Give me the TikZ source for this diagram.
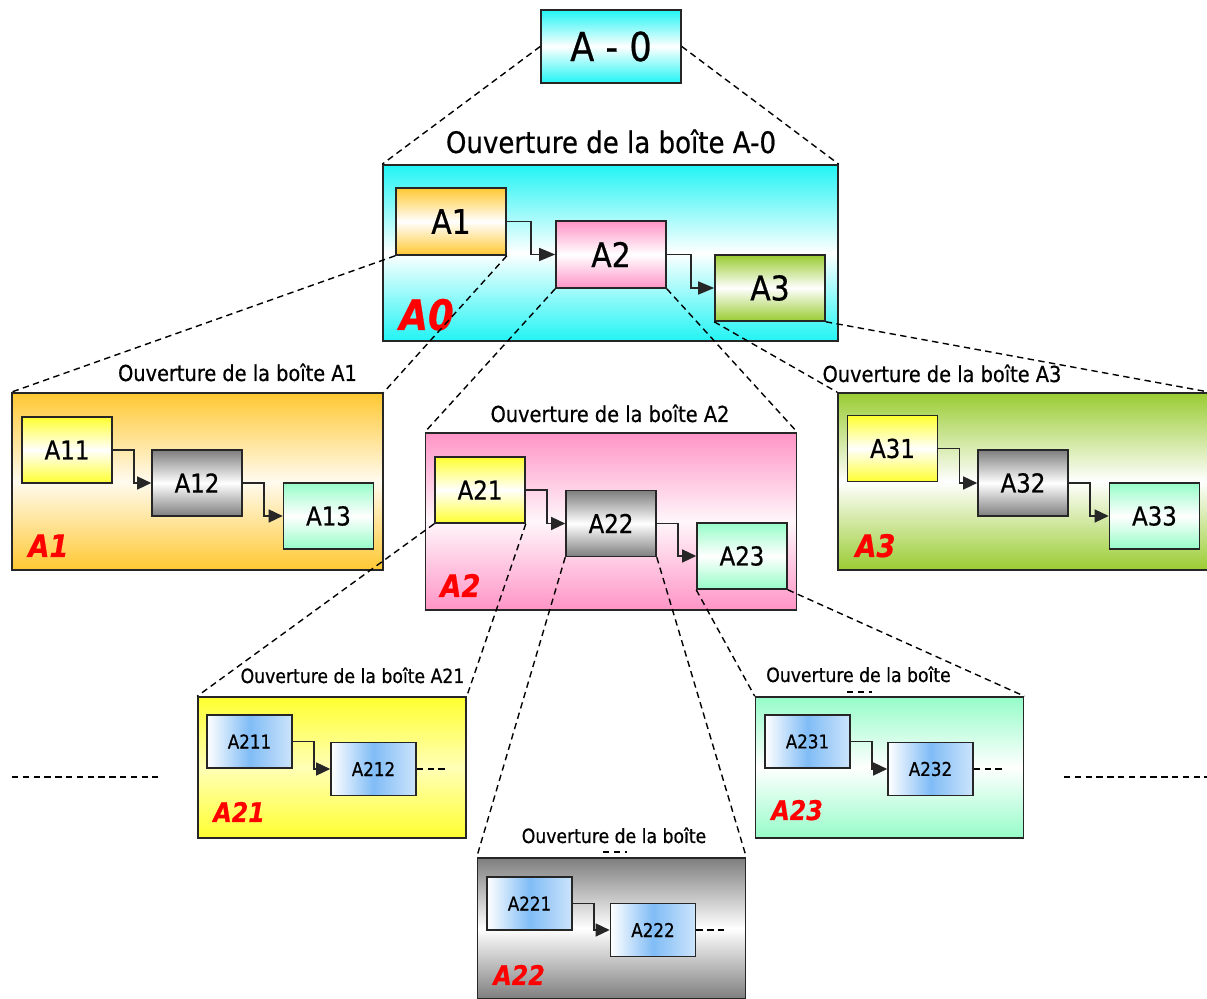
\documentclass[tikz,border=0pt]{standalone}
\usepackage{fontspec}
\setmainfont{DejaVu Sans}[FakeStretch=0.88, FakeBold=0.6]
\usetikzlibrary{arrows.meta}

\definecolor{cyanA}{HTML}{22F4F4}
\definecolor{orangeA}{HTML}{FFC832}
\definecolor{roseA}{HTML}{FF94C6}
\definecolor{vertA}{HTML}{9ACC32}
\definecolor{jauneA}{HTML}{FFFF30}
\definecolor{grisA}{HTML}{7E7E7E}
\definecolor{aquaA}{HTML}{96FCC8}
\definecolor{bleuA}{HTML}{80BCF6}

\tikzset{
  fond/.style 2 args={top color=#1, bottom color=#1, middle color=#2},
  fondh/.style={left color=white, right color=white!60!bleuA, middle color=bleuA},
  boite/.style={draw=black!85, line width=0.8pt, inner sep=0pt},
  moyen/.style={boite, minimum width=55pt, minimum height=33.5pt, font=\fontsize{17}{20}\selectfont},
  petit/.style={boite, minimum width=45pt, minimum height=33pt, font=\fontsize{13}{16}\selectfont},
  mini/.style={boite, fondh, minimum width=42.5pt, minimum height=26.5pt, font=\fontsize{9.5}{11}\selectfont},
  grande/.style={boite, minimum width=185.5pt, minimum height=88.5pt},
  bas/.style={boite, minimum width=134pt, minimum height=70.5pt},
  titre/.style={anchor=base, inner sep=0pt},
  rouge/.style={anchor=base west, inner sep=0pt, text=red, font=#1\bfseries\itshape},
  fleche/.style={draw=black!85, line width=0.7pt, -{Triangle[length=#1,width=6.5pt]}},
  fleche/.default=7pt,
  pointille/.style={line width=0.7pt, dash pattern=on 3.2pt off 2.2pt}
}

\begin{document}
\begin{tikzpicture}[x=0.5pt, y=-0.5pt]
\clip (0,0) rectangle (1207,999);
\fill[white] (0,0) rectangle (1207,999);

% boite de depart
\node[boite, fond={cyanA}{white}, minimum width=70pt, minimum height=36.5pt,
  font=\fontsize{20}{24}\selectfont] (a0) at (611,46.5) {A - 0};

% niveau A0
\node[titre, font=\fontsize{14.8}{17}\selectfont] (tA0) at (611,153) {Ouverture de la boîte A-0};
\node[boite, fond={cyanA}{white}, minimum width=227.5pt, minimum height=88pt] (bA0) at (610.5,253) {};
\node[moyen, fond={orangeA}{white}] (a1) at (451,221.5) {A1};
\node[moyen, fond={roseA}{white}] (a2) at (611,254.5) {A2};
\node[moyen, fond={vertA}{white}, minimum height=33pt] (a3) at (770,288) {A3};
\node[rouge=\fontsize{21}{24}\selectfont] (rA0) at (399,330) {A0};
\draw[fleche=8pt] (a1.east) -- ++(24,0) |- (a2.west);
\draw[fleche=8pt] (a2.east) -- ++(24,0) |- (a3.west);

% niveau A1
\node[titre, font=\fontsize{11}{13}\selectfont] (tA1) at (237.5,381) {Ouverture de la boîte A1};
\node[grande, fond={orangeA}{orangeA!8}] (bA1) at (197.5,481.5) {};
\node[petit, fond={jauneA}{white}] (a11) at (67,450) {A11};
\node[petit, fond={grisA}{white}] (a12) at (197,483) {A12};
\node[petit, fond={aquaA}{white}] (a13) at (328.5,516) {A13};
\node[rouge=\fontsize{15.5}{18}\selectfont] (rA1) at (28,557) {A1};
\draw[fleche] (a11.east) -- ++(21,0) |- (a12.west);
\draw[fleche] (a12.east) -- ++(21,0) |- (a13.west);

% niveau A2
\node[titre, font=\fontsize{11}{13}\selectfont] (tA2) at (610,422) {Ouverture de la boîte A2};
\node[grande, fond={roseA}{roseA!8}] (bA2) at (611,521.5) {};
\node[petit, fond={jauneA}{white}] (a21) at (480,490) {A21};
\node[petit, fond={grisA}{white}] (a22) at (611,523.5) {A22};
\node[petit, fond={aquaA}{white}] (a23) at (742,556) {A23};
\node[rouge=\fontsize{15.5}{18}\selectfont] (rA2) at (440,597) {A2};
\draw[fleche] (a21.east) -- ++(21,0) |- (a22.west);
\draw[fleche] (a22.east) -- ++(21,0) |- (a23.west);

% niveau A3
\node[titre, font=\fontsize{11}{13}\selectfont] (tA3) at (942,382) {Ouverture de la boîte A3};
\node[grande, fond={vertA}{white}] (bA3) at (1023.5,481.5) {};
\node[petit, fond={jauneA}{white}] (a31) at (892.5,448.5) {A31};
\node[petit, fond={grisA}{white}] (a32) at (1023,483) {A32};
\node[petit, fond={aquaA}{white}] (a33) at (1154.5,516) {A33};
\node[rouge=\fontsize{15.5}{18}\selectfont] (rA3) at (855,557) {A3};
\draw[fleche] (a31.east) -- ++(21,0) |- (a32.west);
\draw[fleche] (a32.east) -- ++(21,0) |- (a33.west);

% niveau A21
\node[titre, font=\fontsize{9.8}{12}\selectfont] (tA21) at (352.5,683) {Ouverture de la boîte A21};
\node[bas, fond={jauneA}{jauneA!35}] (bA21) at (332,767.5) {};
\node[mini] (a211) at (249.5,741.5) {A211};
\node[mini] (a212) at (373.5,769) {A212};
\node[rouge=\fontsize{13.5}{16}\selectfont] (rA21) at (213,822) {A21};
\draw[fleche] (a211.east) -- ++(21,0) |- (a212.west);
\draw[pointille] (a212.east) -- ++(31,0);

% niveau A23
\node[titre, font=\fontsize{9.8}{12}\selectfont] (tA23) at (858.5,682) {Ouverture de la boîte};
\node[bas, fond={aquaA}{white}] (bA23) at (889.5,767.5) {};
\node[mini] (a231) at (807.5,741.5) {A231};
\node[mini] (a232) at (930.5,769) {A232};
\node[rouge=\fontsize{13.5}{16}\selectfont] (rA23) at (771,820) {A23};
\draw[fleche] (a231.east) -- ++(21,0) |- (a232.west);
\draw[pointille] (a232.east) -- ++(31,0);
\draw[pointille] (847,692) -- (872,692);

% niveau A22
\node[titre, font=\fontsize{9.8}{12}\selectfont] (tA22) at (614,843) {Ouverture de la boîte};
\node[bas, fond={grisA}{white}] (bA22) at (611.5,928.5) {};
\node[mini] (a221) at (529.5,903.5) {A221};
\node[mini] (a222) at (653,930) {A222};
\node[rouge=\fontsize{13.5}{16}\selectfont] (rA22) at (493,985) {A22};
\draw[fleche] (a221.east) -- ++(21,0) |- (a222.west);
\draw[pointille] (a222.east) -- ++(31,0);
\draw[pointille] (603,852) -- (627,852);

% ouvertures
\draw[pointille] (a0.west) -- (bA0.north west) (a0.east) -- (bA0.north east);
\foreach \p/\b in {a1/bA1, a2/bA2, a3/bA3, a21/bA21, a22/bA22, a23/bA23}
  \draw[pointille] (\p.south west) -- (\b.north west) (\p.south east) -- (\b.north east);

% suite des niveaux
\draw[pointille] (12,777) -- (158,777);
\draw[pointille] (1064,777) -- (1207,777);
\end{tikzpicture}
\end{document}
